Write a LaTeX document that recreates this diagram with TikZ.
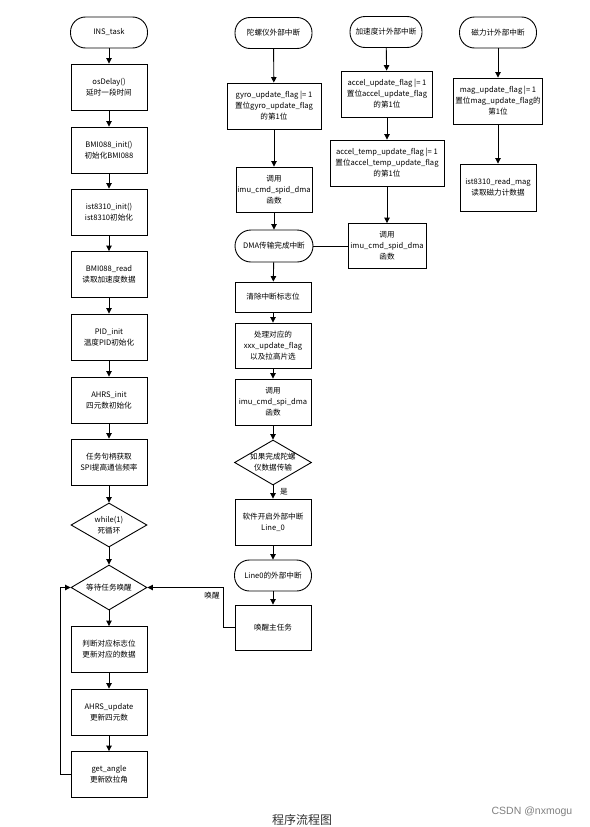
\documentclass[tikz,border=0pt]{standalone}
\usepackage{fontspec}
\setmainfont{Noto Sans CJK SC}
\newfontfamily\wmfont{Liberation Sans}
\usetikzlibrary{arrows.meta,shapes.geometric}
\begin{document}
\begin{tikzpicture}[x=1pt,y=-1pt, font=\fontsize{7.6}{11}\selectfont,
 arr/.style={-{Triangle[length=5.5pt,width=5.5pt]}, line width=0.9pt},
 ln/.style={line width=0.9pt},
 procbox/.style={draw, line width=0.9pt, rectangle, inner sep=0pt, align=center, minimum width=76, minimum height=46},
 term/.style={draw, line width=0.9pt, rectangle, rounded corners=15pt, inner sep=0pt, align=center, minimum width=77, minimum height=31},
 dec/.style={draw, line width=0.9pt, diamond, aspect=1.7, inner sep=0pt, align=center, minimum width=76, minimum height=44}]
\fill[white] (0,0) rectangle (589,827);
\useasboundingbox (0,0) rectangle (589,827);
% left column
\node[term] (ins) at (109,32.5) {INS\_task};
\node[procbox] (osd) at (109,87) {osDelay()\\延时一段时间};
\node[procbox] (bmi) at (109,150) {BMI088\_init()\\初始化BMI088};
\node[procbox] (ist) at (109,212) {ist8310\_init()\\ist8310初始化};
\node[procbox] (bmr) at (109,274.5) {BMI088\_read\\读取加速度数据};
\node[procbox] (pid) at (109,337) {PID\_init\\温度PID初始化};
\node[procbox] (ahi) at (109,400) {AHRS\_init\\四元数初始化};
\node[procbox] (tsk) at (109,462) {任务句柄获取\\SPI提高通信频率};
\node[dec] (whl) at (109,525) {while(1)\\死循环};
\node[dec, minimum height=45] (wai) at (109,587.5) {等待任务唤醒};
\node[procbox] (jdg) at (109,649.5) {判断对应标志位\\更新对应的数据};
\node[procbox] (ahu) at (109,712) {AHRS\_update\\更新四元数};
\node[procbox] (gan) at (109,774.5) {get\_angle\\更新欧拉角};
% middle column
\node[term] (gyt) at (273.5,33) {陀螺仪外部中断};
\node[procbox, minimum width=94] (gyb) at (274,106) {gyro\_update\_flag |= 1\\置位gyro\_update\_flag\\的第1位};
\node[procbox, minimum height=45] (gyc) at (274,189.5) {调用\\imu\_cmd\_spid\_dma\\函数};
\node[term, minimum width=78, minimum height=32, rounded corners=16pt] (dma) at (274,246) {DMA传输完成中断};
\node[procbox, minimum height=30] (clr) at (273,297) {清除中断标志位};
\node[procbox, minimum height=45] (prc) at (273,345.5) {处理对应的\\xxx\_update\_flag\\以及拉高片选};
\node[procbox] (cl2) at (273,402) {调用\\imu\_cmd\_spi\_dma\\函数};
\node[dec, minimum width=77, minimum height=45] (ifd) at (273,462.5) {如果完成陀螺\\仪数据传输};
\node[procbox] (sft) at (273,522) {软件开启外部中断\\Line\_0};
\node[term] (ln0) at (273,575.5) {Line0的外部中断};
\node[procbox, minimum height=45] (wak) at (273,627.5) {唤醒主任务};
\node (yes) at (284,491.5) {是};
\node (wl) at (212,596) {唤醒};
% accel column
\node[term, minimum width=72] (act) at (386,32) {加速度计外部中断};
\node[procbox, minimum width=91] (acb) at (387,94) {accel\_update\_flag |= 1\\置位accel\_update\_flag\\的第1位};
\node[procbox, minimum width=114] (atb) at (387,163) {accel\_temp\_update\_flag |= 1\\置位accel\_temp\_update\_flag\\的第1位};
\node[procbox, minimum width=78, minimum height=45] (acc) at (387,246) {调用\\imu\_cmd\_spid\_dma\\函数};
% mag column
\node[term] (mgt) at (498,32.5) {磁力计外部中断};
\node[procbox, minimum width=89] (mgb) at (498,101) {mag\_update\_flag |= 1\\置位mag\_update\_flag的\\第1位};
\node[procbox, minimum width=76, minimum height=47] (mgr) at (498,187.5) {ist8310\_read\_mag\\读取磁力计数据};
% captions
\node[font=\fontsize{12}{14}\selectfont, text=black!80] (cap) at (302,819.5) {程序流程图};
\node[font=\wmfont\fontsize{10.5}{12}\selectfont, text=black!50] (wm) at (532,812) {CSDN @nxmogu};
% connectors left
\draw[arr] (ins) -- (osd);
\draw[arr] (osd) -- (bmi);
\draw[arr] (bmi) -- (ist);
\draw[arr] (ist) -- (bmr);
\draw[arr] (bmr) -- (pid);
\draw[arr] (pid) -- (ahi);
\draw[arr] (ahi) -- (tsk);
\draw[arr] (tsk) -- (whl);
\draw[arr] (whl) -- (wai);
\draw[arr] (wai) -- (jdg);
\draw[arr] (jdg) -- (ahu);
\draw[arr] (ahu) -- (gan);
\coordinate (lp) at (60,774.5);
\draw[arr] (gan.west) -- (lp) |- (wai.west);
% connectors middle
\draw[arr] (gyt) -- (gyb);
\draw[arr] (gyb) -- (gyc);
\draw[arr] (gyc) -- (dma);
\draw[arr] (dma) -- (clr);
\draw[arr] (clr) -- (prc);
\draw[arr] (prc) -- (cl2);
\draw[arr] (cl2) -- (ifd);
\draw[arr] (ifd) -- (sft);
\draw[arr] (sft) -- (ln0);
\draw[arr] (ln0) -- (wak);
\coordinate (wk) at (223,627.5);
\draw[arr] (wak.west) -- (wk) |- (wai.east);
\draw[ln] (dma.east) -- (acc.west);
% connectors accel
\draw[arr] (act) -- (acb);
\draw[arr] (acb) -- (atb);
\draw[arr] (atb) -- (acc);
% connectors mag
\draw[arr] (mgt) -- (mgb);
\draw[arr] (mgb) -- (mgr);
\end{tikzpicture}
\end{document}
